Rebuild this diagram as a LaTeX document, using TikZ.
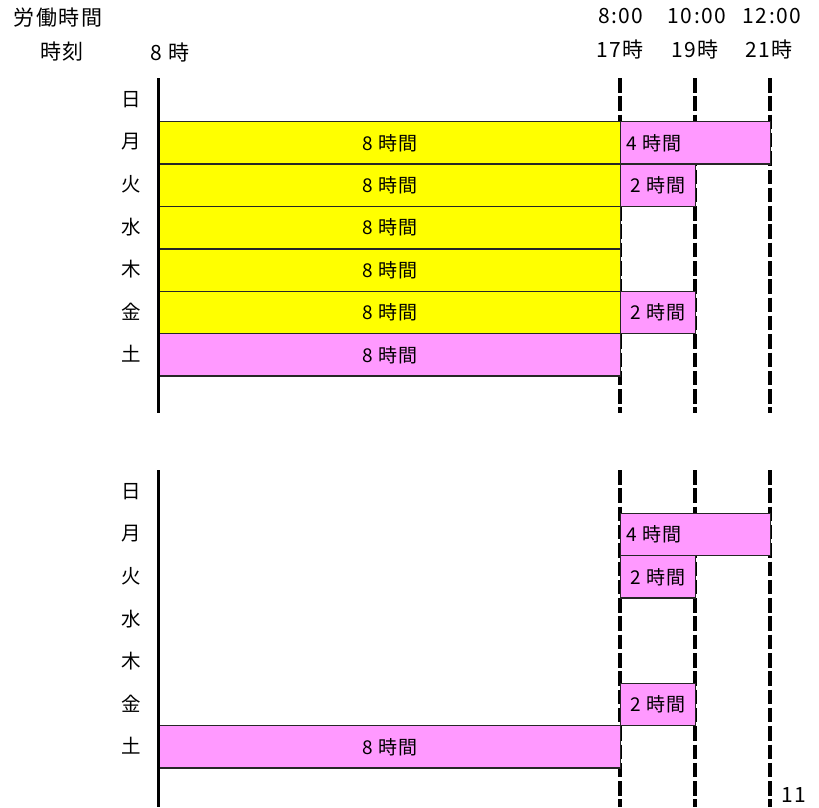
\documentclass[tikz,border=0pt]{standalone}
\usepackage{fontspec}
\setmainfont{Noto Sans CJK JP}
\definecolor{yel}{HTML}{FFFF00}
\definecolor{pnk}{HTML}{FF99FF}
\tikzset{
  bar/.style={draw=black!85, line width=1.4pt, inner sep=0pt, anchor=north west, minimum height=42.4pt},
  ybar/.style={bar, fill=yel, minimum width=462pt},
  pbar/.style={bar, fill=pnk},
  bartxt/.style={font=\fontsize{19}{21}\selectfont\addfontfeature{LetterSpace=5}},
  day/.style={font=\fontsize{19.5}{21}\selectfont, inner sep=0pt},
  hdr/.style={font=\fontsize{21}{23}\selectfont\addfontfeature{LetterSpace=7}, inner sep=0pt},
  dline/.style={line width=3.2pt, dash pattern=on 14.5pt off 3.8pt},
  sline/.style={line width=3pt},
}
\begin{document}
\begin{tikzpicture}[x=1pt,y=-1pt]
\useasboundingbox (0,0) rectangle (819,807);
% headers
\node[hdr] (h1) at (58,18) {労働時間};
\node[hdr] (h2) at (62,52) {時刻};
\node[hdr] (h3) at (170,52) {8\hspace{6pt}時};
\node[hdr] (t1) at (621,16) {8:00};
\node[hdr] (t2) at (697,16) {10:00};
\node[hdr] (t3) at (772,16) {12:00};
\node[hdr] (c1) at (620,49) {17時};
\node[hdr] (c2) at (695,49) {19時};
\node[hdr] (c3) at (769,49) {21時};
% coordinates for lines
\foreach \n/\x in {a/158,b/620,c/695,d/770}{
  \coordinate (\n1) at (\x,78);
  \coordinate (\n2) at (\x,413);
  \coordinate (\n3) at (\x,470);
  \coordinate (\n4) at (\x,807);
}
% dashed lines
\foreach \n in {b,c,d}{
  \draw[dline] (\n1) -- (\n2);
  \draw[dline] (\n3) -- (\n4);
}
% top chart
\node[ybar] (m1) at (158,121) {};
\node[bartxt] at (m1.center) {8 時間};
\node[ybar] (tu1) at (158,163.4) {};
\node[bartxt] at (tu1.center) {8 時間};
\node[ybar] (w1) at (158,205.8) {};
\node[bartxt] at (w1.center) {8 時間};
\node[ybar] (th1) at (158,248.2) {};
\node[bartxt] at (th1.center) {8 時間};
\node[ybar] (f1) at (158,290.6) {};
\node[bartxt] at (f1.center) {8 時間};
\node[pbar, minimum width=462pt] (s1) at (158,333) {};
\node[bartxt] at (s1.center) {8 時間};
\node[pbar, minimum width=150pt] (mx1) at (620,121) {};
\node[bartxt, anchor=west] at ([xshift=3pt]mx1.west) {4 時間};
\node[pbar, minimum width=75pt] (tx1) at (620,163.4) {};
\node[bartxt] at (tx1.center) {2 時間};
\node[pbar, minimum width=75pt] (fx1) at (620,290.6) {};
\node[bartxt] at (fx1.center) {2 時間};
% bottom chart
\node[pbar, minimum width=150pt] (mx2) at (620,512.5) {};
\node[bartxt, anchor=west] at ([xshift=3pt]mx2.west) {4 時間};
\node[pbar, minimum width=75pt] (tx2) at (620,555) {};
\node[bartxt] at (tx2.center) {2 時間};
\node[pbar, minimum width=75pt] (fx2) at (620,682.5) {};
\node[bartxt] at (fx2.center) {2 時間};
\node[pbar, minimum width=462pt] (s2) at (158,725) {};
\node[bartxt] at (s2.center) {8 時間};
% solid lines
\draw[sline] (a1) -- (a2);
\draw[sline] (a3) -- (a4);
% day labels
\foreach \d/\y [count=\i] in {日/100,月/142,火/184.5,水/227,木/269,金/311.5,土/354}{
  \node[day] (dt\i) at (131,\y) {\d};
}
\foreach \d/\y [count=\i] in {日/492,月/534,火/576.5,水/619,木/661.5,金/704,土/746}{
  \node[day] (db\i) at (131,\y) {\d};
}
\node[hdr] (pg) at (794,795) {11};
\end{tikzpicture}
\end{document}
